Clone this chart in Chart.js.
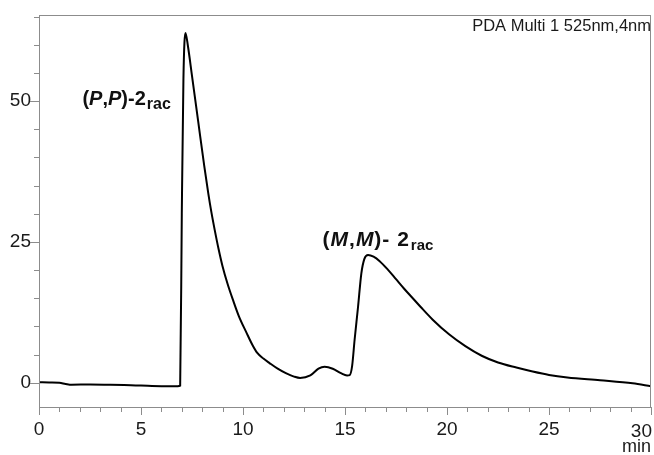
<!DOCTYPE html>
<html>
<head>
<meta charset="utf-8">
<script src="https://cdn.jsdelivr.net/npm/chart.js@4/dist/chart.umd.min.js"></script>
<style>
  html, body { margin: 0; padding: 0; background: #fff; }
  #wrap { width: 654px; height: 455px; }
</style>
</head>
<body>
<div id="wrap"><canvas id="cromatograma"></canvas></div>
<script>
// tempo de retenção (min) e sinal (mAU)
const tempos = [0, 0.5, 1.0, 1.3, 1.6, 2.5, 3.5, 4.5, 5.0, 6.0, 6.8, 6.92, 7.0, 7.08, 7.18, 7.3, 7.5, 7.8, 8.1, 8.3, 8.45, 8.61, 8.8, 8.99, 9.25, 9.5, 9.8, 10.17, 10.45, 10.7, 11.0, 11.3, 11.7, 12.1, 12.5, 12.8, 13.3, 13.7, 14.0, 14.4, 14.8, 15.1, 15.23, 15.35, 15.47, 15.64, 15.8, 15.95, 16.13, 16.4, 16.7, 17.1, 17.5, 17.9, 18.3, 18.7, 19.3, 20.1, 20.9, 21.7, 22.5, 23.4, 24.2, 25.0, 25.9, 27.5, 29.1, 30];
const sinal  = [0.1, 0.05, 0.0, -0.2, -0.35, -0.3, -0.35, -0.45, -0.5, -0.6, -0.6, -0.5, 30, 54, 62.1, 59.8, 54.5, 46.5, 38.5, 33.6, 30.3, 27.2, 23.8, 20.8, 17.5, 14.8, 11.8, 8.9, 6.8, 5.3, 4.3, 3.5, 2.5, 1.7, 1.1, 0.85, 1.3, 2.5, 2.85, 2.5, 1.7, 1.3, 1.37, 3.0, 7.6, 13.5, 19.4, 22.0, 22.7, 22.4, 21.6, 20.1, 18.4, 16.7, 15.1, 13.5, 11.2, 8.6, 6.5, 4.8, 3.6, 2.7, 2.0, 1.4, 0.95, 0.45, -0.1, -0.6];

const xTicks = [0, 5, 10, 15, 20, 25, 30];
const yTicks = [0, 25, 50];
const xMinor = 1;
const yMinor = 5;
const detector = 'PDA Multi 1 525nm,4nm';
const unidadeX = 'min';

// rótulos dos picos: [texto, itálico?]
const picoPP = [['(', false], ['P', true], [',', false], ['P', true], [')-2', false]];
const picoMM = [['(', false], ['M', true], [',', false], ['M', true], [')- 2', false]];
const subscrito = 'rac';
const posPP = { x: 2.13, y: 49.3 };
const posMM = { x: 13.9, y: 24.2 };

const FONTE = "'Liberation Sans', Arial, sans-serif";
const CINZA = '#8c8c8c';

const moldura = {
    id: 'moldura',
    afterDraw(chart) {
        const { ctx, chartArea: a, scales } = chart;
        ctx.save();
        ctx.strokeStyle = CINZA;
        ctx.lineWidth = 1;
        ctx.strokeRect(a.left + 0.5, a.top + 0.5, a.right - a.left - 1, a.bottom - a.top);

        // ticks do eixo x
        ctx.beginPath();
        for (let v = scales.x.min; v <= scales.x.max; v += xMinor) {
            const px = Math.round(scales.x.getPixelForValue(v)) + 0.5;
            const len = xTicks.includes(v) ? 8 : 5;
            ctx.moveTo(px, a.bottom);
            ctx.lineTo(px, a.bottom + len);
        }
        // ticks do eixo y
        for (let v = 0; v <= scales.y.max; v += yMinor) {
            const py = Math.round(scales.y.getPixelForValue(v)) + 0.5;
            const len = yTicks.includes(v) ? 9 : 5;
            ctx.moveTo(a.left, py);
            ctx.lineTo(a.left - len, py);
        }
        ctx.stroke();

        ctx.fillStyle = '#1a1a1a';
        ctx.font = '16.5px ' + FONTE;
        ctx.textAlign = 'right';
        ctx.textBaseline = 'alphabetic';
        ctx.fillText(detector, a.right, a.top + 16);
        ctx.font = '18px ' + FONTE;
        ctx.fillText(unidadeX, a.right, 452);
        // último rótulo do eixo x encostado na borda
        const ultimo = xTicks[xTicks.length - 1];
        ctx.font = '19px ' + FONTE;
        ctx.fillText(String(ultimo), a.right + 1, 437);

        // rótulos dos picos
        const desenhaRotulo = (partes, pos, tam, sub, esp) => {
            let x = scales.x.getPixelForValue(pos.x);
            const y = scales.y.getPixelForValue(pos.y);
            ctx.textAlign = 'left';
            ctx.fillStyle = '#111';
            ctx.letterSpacing = esp;
            partes.forEach(([txt, it]) => {
                ctx.font = (it ? 'italic ' : '') + 'bold ' + tam + 'px ' + FONTE;
                ctx.fillText(txt, x, y);
                x += ctx.measureText(txt).width;
            });
            ctx.letterSpacing = '0px';
            ctx.font = 'bold ' + sub + 'px ' + FONTE;
            ctx.fillText(subscrito, x + 1, y + 4);
        };
        desenhaRotulo(picoPP, posPP, 20, 16, '0px');
        desenhaRotulo(picoMM, posMM, 21, 15, '1px');
        ctx.restore();
    }
};

new Chart(document.getElementById('cromatograma'), {
    type: 'line',
    data: {
        datasets: [{
            data: tempos.map((t, i) => ({ x: t, y: sinal[i] })),
            borderColor: '#000',
            borderWidth: 2,
            pointRadius: 0,
            cubicInterpolationMode: 'monotone',
            fill: false
        }]
    },
    options: {
        responsive: true,
        maintainAspectRatio: false,
        animation: false,
        layout: { padding: { top: 15, right: 3, left: 0, bottom: 0 } },
        plugins: { legend: { display: false }, tooltip: { enabled: false } },
        scales: {
            x: {
                type: 'linear',
                min: 0,
                max: 30,
                afterFit: s => { s.height = 48; s.paddingLeft = 0; s.paddingRight = 0; },
                afterBuildTicks: s => { s.ticks = xTicks.map(v => ({ value: v })); },
                grid: { display: false, drawTicks: false },
                border: { display: false },
                ticks: {
                    color: '#1a1a1a', padding: 11, maxRotation: 0,
                    font: { size: 19, family: FONTE },
                    callback: v => (v === xTicks[xTicks.length - 1] ? '' : v)
                }
            },
            y: {
                min: -4.3,
                max: 65.3,
                afterFit: s => { s.width = 39; s.paddingTop = 0; s.paddingBottom = 0; },
                afterBuildTicks: s => { s.ticks = yTicks.map(v => ({ value: v })); },
                grid: { display: false, drawTicks: false },
                border: { display: false },
                ticks: { color: '#1a1a1a', padding: 8, font: { size: 19, family: FONTE } }
            }
        }
    },
    plugins: [moldura]
});
</script>
</body>
</html>
